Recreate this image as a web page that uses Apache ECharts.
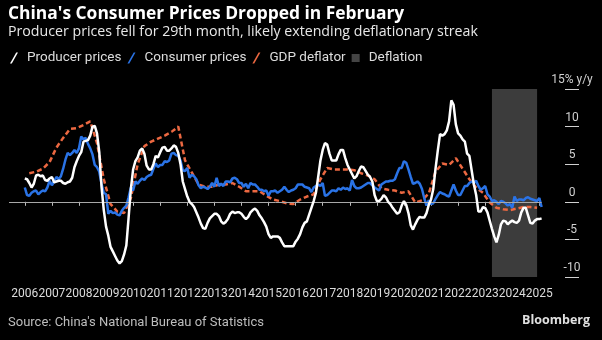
<!DOCTYPE html>
<html>
<head>
<meta charset="utf-8">
<script src="https://cdn.jsdelivr.net/npm/echarts@6/dist/echarts.min.js"></script>
<style>
  html, body { margin: 0; padding: 0; background: #000; }
  #chart { width: 602px; height: 340px; }
</style>
</head>
<body>
<div id="chart"></div>
<script>
// Monthly y/y change, %, Jan 2006 - Feb 2025
const ppi = [
  3.1, 3.0, 2.5, 1.9, 2.4, 3.5, 3.6, 3.4, 3.5, 2.9, 2.8, 3.1,
  3.3, 2.6, 2.7, 2.8, 2.8, 2.5, 2.4, 2.6, 2.7, 3.2, 4.6, 5.4,
  6.1, 6.6, 8.0, 8.1, 8.2, 8.8, 10.0, 10.1, 9.1, 6.6, 2.0, -1.1,
  -3.3, -4.5, -6.0, -6.6, -7.2, -7.8, -8.2, -7.9, -7.0, -5.8, -2.1, 1.7,
  4.3, 5.4, 5.9, 6.8, 7.1, 6.4, 4.8, 4.3, 4.3, 5.0, 6.1, 5.9,
  6.6, 7.2, 7.3, 6.8, 6.8, 7.1, 7.5, 7.3, 6.5, 5.0, 2.7, 1.7,
  0.7, 0.0, -0.3, -0.7, -1.4, -2.1, -2.9, -3.5, -3.6, -2.8, -2.2, -1.9,
  -1.6, -1.6, -1.9, -2.6, -2.9, -2.7, -2.3, -1.6, -1.3, -1.5, -1.4, -1.4,
  -1.6, -2.0, -2.3, -2.0, -1.4, -1.1, -0.9, -1.2, -1.8, -2.2, -2.7, -3.3,
  -4.3, -4.8, -4.6, -4.6, -4.6, -4.8, -5.4, -5.9, -5.9, -5.9, -5.9, -5.9,
  -5.3, -4.9, -4.3, -3.4, -2.8, -2.6, -1.7, -0.8, 0.1, 1.2, 3.3, 5.5,
  6.9, 7.8, 7.6, 6.4, 5.5, 5.5, 5.5, 6.3, 6.9, 6.9, 5.8, 4.9,
  4.3, 3.7, 3.1, 3.4, 4.1, 4.7, 4.6, 4.1, 3.6, 3.3, 2.7, 0.9,
  0.1, 0.1, 0.4, 0.9, 0.6, 0.0, -0.3, -0.8, -1.2, -1.6, -1.4, -0.5,
  0.1, -0.4, -1.5, -3.1, -3.7, -3.0, -2.4, -2.0, -2.1, -2.1, -1.5, -0.4,
  0.3, 1.7, 4.4, 6.8, 9.0, 8.8, 9.0, 9.5, 10.7, 13.5, 12.9, 10.3,
  9.1, 8.8, 8.3, 8.0, 6.4, 6.1, 4.2, 2.3, 0.9, -1.3, -1.3, -0.7,
  -0.8, -1.4, -2.5, -3.6, -4.6, -5.4, -4.4, -3.0, -2.5, -2.6, -3.0, -2.7,
  -2.5, -2.7, -2.8, -2.5, -1.4, -0.8, -0.8, -1.8, -2.8, -2.9, -2.5, -2.3,
  -2.3, -2.2
];

const cpi = [
  1.9, 0.9, 0.8, 1.2, 1.4, 1.5, 1.0, 1.3, 1.5, 1.4, 1.9, 2.8,
  2.2, 2.7, 3.3, 3.0, 3.4, 4.4, 5.6, 6.5, 6.2, 6.5, 6.9, 6.5,
  7.1, 8.7, 8.3, 8.5, 7.7, 7.1, 6.3, 4.9, 4.6, 4.0, 2.4, 1.2,
  1.0, -1.6, -1.2, -1.5, -1.4, -1.7, -1.8, -1.2, -0.8, -0.5, 0.6, 1.9,
  1.5, 2.7, 2.4, 2.8, 3.1, 2.9, 3.3, 3.5, 3.6, 4.4, 5.1, 4.6,
  4.9, 4.9, 5.4, 5.3, 5.5, 6.4, 6.5, 6.2, 6.1, 5.5, 4.2, 4.1,
  4.5, 3.2, 3.6, 3.4, 3.0, 2.2, 1.8, 2.0, 1.9, 1.7, 2.0, 2.5,
  2.0, 3.2, 2.1, 2.4, 2.1, 2.7, 2.7, 2.6, 3.1, 3.2, 3.0, 2.5,
  2.5, 2.0, 2.4, 1.8, 2.5, 2.3, 2.3, 2.0, 1.6, 1.6, 1.4, 1.5,
  0.8, 1.4, 1.4, 1.5, 1.2, 1.4, 1.6, 2.0, 1.6, 1.3, 1.5, 1.6,
  1.8, 2.3, 2.3, 2.3, 2.0, 1.9, 1.8, 1.3, 1.9, 2.1, 2.3, 2.1,
  2.5, 0.8, 0.9, 1.2, 1.5, 1.5, 1.4, 1.8, 1.6, 1.9, 1.7, 1.8,
  1.5, 2.9, 2.1, 1.8, 1.8, 1.9, 2.1, 2.3, 2.5, 2.5, 2.2, 1.9,
  1.7, 1.5, 2.3, 2.5, 2.7, 2.7, 2.8, 2.8, 3.0, 3.8, 4.5, 4.5,
  5.4, 5.2, 4.3, 3.3, 2.4, 2.5, 2.7, 2.4, 1.7, 0.5, -0.5, 0.2,
  -0.3, -0.2, 0.4, 0.9, 1.3, 1.1, 1.0, 0.8, 0.7, 1.5, 2.3, 1.5,
  0.9, 0.9, 1.5, 2.1, 2.1, 2.5, 2.7, 2.5, 2.8, 2.1, 1.6, 1.8,
  2.1, 1.0, 0.7, 0.1, 0.2, 0.0, -0.3, 0.1, 0.0, -0.2, -0.5, -0.3,
  -0.8, 0.7, 0.1, 0.3, 0.3, 0.2, 0.5, 0.6, 0.4, 0.3, 0.2, 0.1,
  0.5, -0.7
];

// Quarterly y/y change, %, 2006 Q1 - 2024 Q4
const gdpDeflator = [
  3.8, 4.0, 4.4, 5.3,
  7.2, 8.5, 9.7, 9.8,
  10.2, 10.7, 7.8, 3.0,
  -0.3, -1.3, -1.5, 0.5,
  5.0, 7.4, 8.0, 8.4,
  8.8, 9.3, 10.0, 5.5,
  3.9, 2.3, 2.0, 2.0,
  2.3, 2.3, 2.5, 2.0,
  1.4, 1.4, 1.4, 0.8,
  0.3, 0.1, -0.2, -0.3,
  0.3, 0.7, 1.0, 3.0,
  4.5, 4.3, 4.3, 4.3,
  4.2, 3.8, 3.5, 3.0,
  1.8, 1.6, 1.5, 1.2,
  1.4, -0.1, 0.2, 1.1,
  4.0, 5.1, 4.9, 5.8,
  4.4, 3.0, 1.9, 1.2,
  -0.1, -0.8, -1.0, -1.1,
  -0.9, -0.7, -0.7, -0.8
];

const deflationPeriod = ['2023-04', '2024-12'];
const yTicks = { min: -10, max: 15, step: 5 };

// Month categories spanning the visible axis range
const firstMonth = { year: 2005, month: 6 };
const lastMonth = { year: 2025, month: 2 };
const pad = n => (n < 10 ? '0' + n : '' + n);
const months = [];
for (let y = firstMonth.year, m = firstMonth.month; y < lastMonth.year || (y === lastMonth.year && m <= lastMonth.month); ) {
  months.push(y + '-' + pad(m));
  m++;
  if (m > 12) { m = 1; y++; }
}
const idx = key => months.indexOf(key);

function monthlySeries(values, startKey) {
  const out = months.map(() => null);
  const s = idx(startKey);
  values.forEach((v, i) => { out[s + i] = v; });
  return out;
}
function quarterlySeries(values, startYear) {
  const out = months.map(() => null);
  values.forEach((v, i) => {
    const y = startYear + Math.floor(i / 4);
    const m = (i % 4 + 1) * 3;
    const k = idx(y + '-' + pad(m));
    if (k >= 0) out[k] = v;
  });
  return out;
}

const ppiData = monthlySeries(ppi, '2006-01');
const cpiData = monthlySeries(cpi, '2006-01');
const gdpData = quarterlySeries(gdpDeflator, 2006);

const isJan = (i, v) => v.slice(5) === '01';
const slash = 'path://M0,11 L1.8,11 L8,0 L6.2,0 Z';
const font = 'Roboto, "Noto Sans", sans-serif';

const chart = echarts.init(document.getElementById('chart'), null, { renderer: 'canvas' });
chart.setOption({
  backgroundColor: '#000',
  animation: false,
  title: [
    { text: "China's Consumer Prices Dropped in February", left: 8, top: 6, padding: 0,
      textStyle: { color: '#fff', fontSize: 17.4, fontWeight: 'bold', fontFamily: '"Open Sans", sans-serif' } },
    { text: 'Producer prices fell for 29th month, likely extending deflationary streak', left: 8, top: 25, padding: 0,
      textStyle: { color: '#e8e8e8', fontSize: 14.2, fontWeight: 'normal', fontFamily: '"Open Sans", sans-serif' } },
    { text: "Source: China's National Bureau of Statistics", left: 8, top: 316, padding: 0,
      textStyle: { color: '#bdbdbd', fontSize: 13, fontWeight: 'normal', fontFamily: font } },
    { text: 'Bloomberg', right: 12, top: 314, padding: 0,
      textStyle: { color: '#e0e0e0', fontSize: 12.5, fontWeight: 'bold', fontFamily: '"Open Sans", sans-serif' } }
  ],
  legend: {
    left: 10, top: 51, padding: 0,
    itemWidth: 8, itemHeight: 11, itemGap: 6,
    textStyle: { color: '#dcdcdc', fontSize: 13.5, fontFamily: font, padding: [0, 0, 0, 4] },
    data: [
      { name: 'Producer prices', icon: slash },
      { name: 'Consumer prices', icon: slash },
      { name: 'GDP deflator', icon: slash },
      { name: 'Deflation', icon: 'path://M0,0 L8,0 L8,8 L0,8 Z', itemStyle: { color: '#444' } }
    ]
  },
  grid: { left: 9, right: 60.4, top: 89, bottom: 63 },
  xAxis: {
    type: 'category',
    data: months,
    boundaryGap: false,
    axisLine: { show: false },
    axisTick: { show: true, interval: isJan, length: 4, lineStyle: { color: '#bbb' } },
    axisLabel: {
      interval: isJan, margin: 11, color: '#dcdcdc', fontSize: 12, fontFamily: font,
      formatter: v => v.slice(0, 4)
    },
    splitLine: { show: false }
  },
  yAxis: {
    type: 'value',
    position: 'right',
    offset: 23.4,
    min: yTicks.min, max: yTicks.max, interval: yTicks.step,
    axisLine: { show: false },
    axisTick: { show: true, length: 14, lineStyle: { color: '#d0d0d0', width: 1 } },
    axisLabel: {
      margin: 7, align: 'center', verticalAlign: 'bottom', padding: [0, 0, 3, 0],
      color: '#d0d0d0', fontSize: 12, fontFamily: font,
      formatter: v => (v === yTicks.max ? v + '% y/y' : String(v))
    },
    splitLine: { show: false }
  },
  series: [
    {
      name: 'Deflation', type: 'line', data: [], itemStyle: { color: '#444' }, z: 1,
      markArea: {
        silent: true,
        itemStyle: { color: '#3c3c3c' },
        data: [[{ xAxis: deflationPeriod[0] }, { xAxis: deflationPeriod[1] }]]
      }
    },
    {
      name: 'GDP deflator', type: 'line', data: gdpData, connectNulls: true,
      symbol: 'none', z: 3,
      itemStyle: { color: '#ec6841' },
      lineStyle: { color: '#ec6841', width: 2.5, type: [5, 3] },
      markLine: {
        silent: true, symbol: 'none', label: { show: false },
        lineStyle: { color: '#a8a8a8', width: 1, type: 'solid' },
        data: [{ yAxis: 0 }]
      }
    },
    {
      name: 'Consumer prices', type: 'line', data: cpiData,
      symbol: 'none', z: 4,
      itemStyle: { color: '#2a73e6' },
      lineStyle: { color: '#2a73e6', width: 2.5 }
    },
    {
      name: 'Producer prices', type: 'line', data: ppiData,
      symbol: 'none', z: 5,
      itemStyle: { color: '#ffffff' },
      lineStyle: { color: '#ffffff', width: 2.5 }
    }
  ]
});
</script>
</body>
</html>
